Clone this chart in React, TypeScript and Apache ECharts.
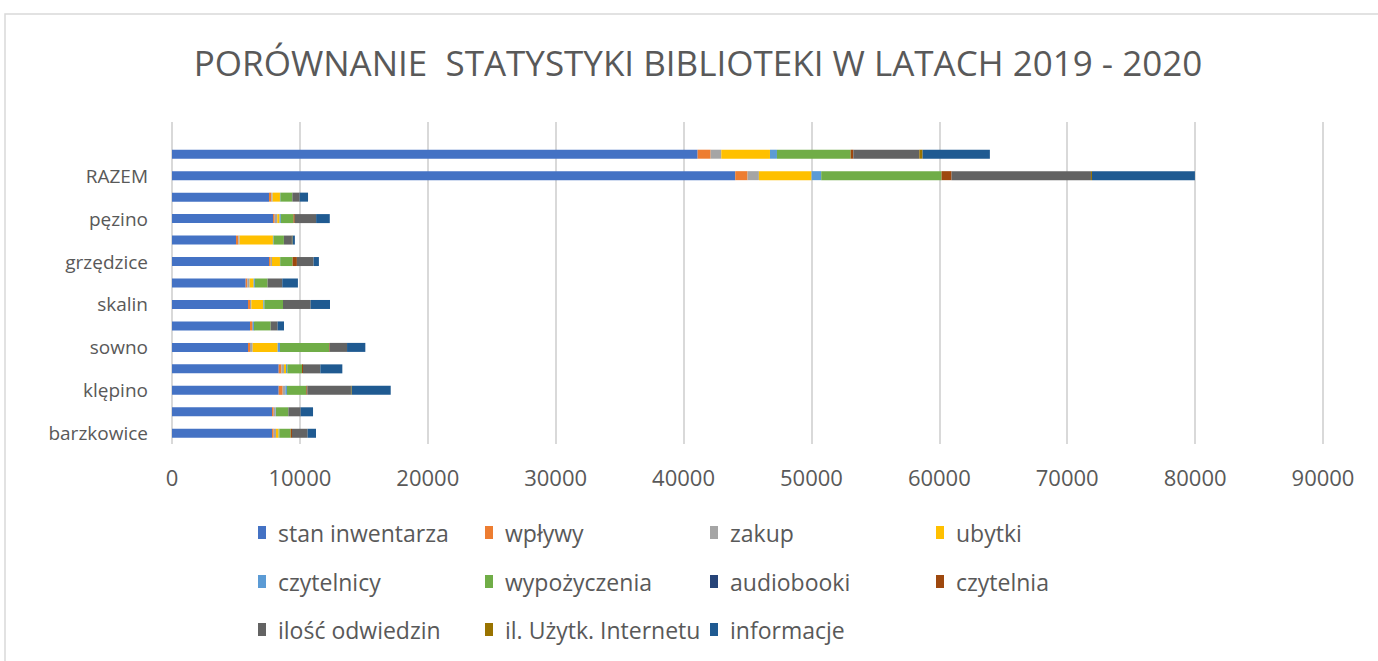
import React, { useEffect, useRef } from "react";
import * as echarts from "echarts";

// categories from bottom to top (every other label is skipped, as in the reference)
const categories = [
  "barzkowice", "", "klępino", "", "sowno", "", "skalin", "",
  "grzędzice", "", "pęzino", "", "RAZEM", "", "",
];

const xTicks = { min: 0, max: 90000, interval: 10000 };

const stanInwentarza = [7821, 7821, 8342, 8342, 5944, 6100, 5944, 5761, 7586, 5005, 7900, 7586, 44040, 41100, null];
const wplywy = [130, 130, 312, 208, 156, 156, 156, 130, 130, 180, 130, 182, 965, 1017, null];
const zakup = [182, 156, 208, 208, 208, 78, 104, 180, 100, 100, 200, 100, 886, 834, null];
const ubytki = [208, 0, 0, 156, 1955, 0, 938, 313, 626, 2607, 180, 574, 4117, 3806, null];
const czytelnicy = [52, 26, 130, 104, 182, 78, 78, 100, 20, 50, 100, 30, 756, 547, null];
const wypozyczenia = [886, 965, 1512, 1147, 3832, 1303, 1460, 990, 965, 808, 990, 939, 9410, 5760, null];
const audiobooki = [0, 0, 0, 0, 0, 0, 0, 0, 0, 0, 0, 0, 0, 0, null];
const czytelnia = [104, 0, 78, 78, 50, 0, 0, 0, 339, 0, 100, 0, 782, 208, null];
const iloscOdwiedzin = [1225, 965, 3410, 1356, 1360, 547, 2164, 1147, 1304, 626, 1668, 574, 10900, 5160, null];
const uzytkInternetu = [0, 0, 60, 0, 0, 0, 0, 0, 0, 50, 0, 0, 80, 260, null];
const informacje = [652, 965, 3050, 1720, 1430, 495, 1512, 1225, 417, 182, 1069, 652, 8050, 5260, null];

const seriesNames = [
  "stan inwentarza", "wpływy", "zakup", "ubytki",
  "czytelnicy", "wypożyczenia", "audiobooki", "czytelnia",
  "ilość odwiedzin", "il. Użytk. Internetu", "informacje",
];
const seriesValues = [
  stanInwentarza, wplywy, zakup, ubytki, czytelnicy, wypozyczenia,
  audiobooki, czytelnia, iloscOdwiedzin, uzytkInternetu, informacje,
];
const colors = [
  "#4472C4", "#ED7D31", "#A5A5A5", "#FFC000", "#5B9BD5", "#70AD47",
  "#264478", "#9E480E", "#636363", "#997300", "#1F5A91",
];

const TITLE = "PORÓWNANIE  STATYSTYKI BIBLIOTEKI W LATACH 2019 - 2020";
const TEXT = "#595959";
const FONT = "Open Sans";

// legend layout: 4 columns x 3 rows
const legendCols = [258, 485, 710, 936];
const legendRows = [535, 584, 632];

export default function App() {
  const ref = useRef<HTMLDivElement>(null);
  useEffect(() => {
    if (!ref.current) return;
    const chart = echarts.init(ref.current, undefined, { renderer: "svg" });
    const legends = seriesNames.map((name, i) => ({
      data: [name],
      left: legendCols[i % 4],
      top: legendRows[Math.floor(i / 4)] - 14,
      itemWidth: 8,
      itemHeight: 13,
      icon: "rect",
      padding: 0,
      textStyle: { color: TEXT, fontSize: 23, fontFamily: FONT, padding: [0, 0, 0, 7] },
    }));
    chart.setOption({
      animation: false,
      backgroundColor: "#ffffff",
      color: colors,
      graphic: [
        {
          type: "rect",
          shape: { x: 5, y: 14, width: 1500, height: 800 },
          style: { fill: "none", stroke: "#D9D9D9", lineWidth: 1.5 },
          silent: true,
        },
        {
          type: "text",
          x: 698,
          y: 62,
          style: {
            text: TITLE,
            fill: TEXT,
            font: `35px "${FONT}"`,
            textAlign: "center",
            textVerticalAlign: "middle",
          },
        },
      ],
      legend: legends,
      grid: { left: 172, right: 55, top: 122, bottom: 661 - 444, containLabel: false },
      xAxis: {
        type: "value",
        min: xTicks.min,
        max: xTicks.max,
        interval: xTicks.interval,
        axisLine: { show: false },
        axisTick: { show: false },
        splitLine: { show: true, lineStyle: { color: "#D9D9D9", width: 2 } },
        axisLabel: {
          color: TEXT,
          fontSize: 22,
          fontFamily: FONT,
          margin: 22,
          formatter: (v: number) => String(v),
        },
      },
      yAxis: {
        type: "category",
        data: categories,
        axisLine: { show: false },
        axisTick: { show: false },
        axisLabel: { color: TEXT, fontSize: 19, fontFamily: FONT, margin: 24, interval: 1 },
      },
      series: seriesNames.map((name, i) => ({
        name,
        type: "bar",
        stack: "total",
        barWidth: 9,
        data: seriesValues[i],
        itemStyle: { color: colors[i] },
      })),
    });
    return () => chart.dispose();
  }, []);
  return (
    <div
      ref={ref}
      style={{ position: "fixed", left: 0, top: 0, width: 1378, height: 661 }}
    />
  );
}
